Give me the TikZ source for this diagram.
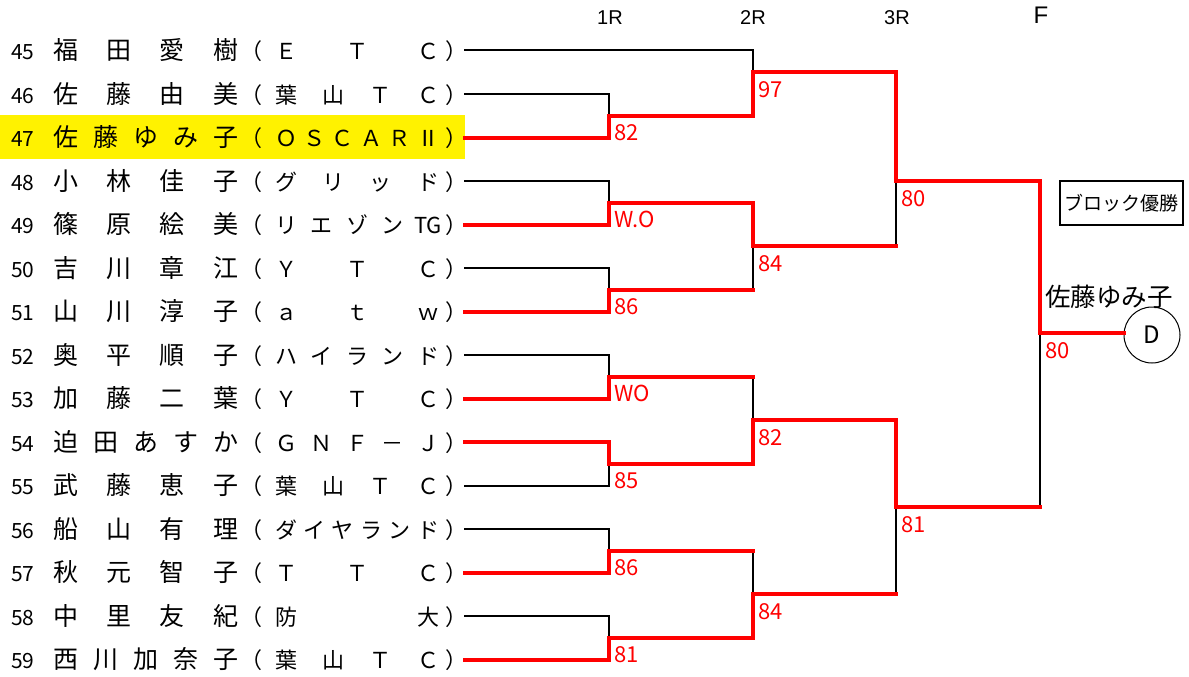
\documentclass[tikz,border=0pt]{standalone}
\usepackage{fontspec}
\setmainfont{Noto Sans CJK JP}
\newfontfamily\latinsans{Liberation Sans}
\usetikzlibrary{shapes.geometric}
\tikzset{
  lose/.style={line width=2pt, black, line join=miter, line cap=rect},
  win/.style={line width=4pt, red, line join=miter, line cap=rect},
  namef/.style={inner sep=0pt, anchor=base, font=\fontsize{25}{25}\selectfont},
  afff/.style={inner sep=0pt, anchor=base, font=\fontsize{22}{22}\selectfont},
  numf/.style={inner sep=0pt, anchor=base west, font=\fontsize{21}{21}\selectfont},
  score/.style={inner sep=0pt, anchor=base west, text=red, font=\fontsize{22}{22}\selectfont},
  hdr/.style={inner sep=0pt, anchor=base, font=\latinsans\fontsize{20}{20}\selectfont},
}
\newcommand\playerrow[5]{%
  \pgfmathsetmacro\yy{59.5+43.5*(#1-45)}%
  \node[numf] (no#1) at (11,\yy) {#1};
  \foreach \c [count=\i] in {#3} {\node[namef] (nm#1-\i) at ({65.5+160*(\i-1)/(#2-1)},\yy) {\c};}
  \node[afff, anchor=base west] (lp#1) at (240,\yy) {（};
  \foreach \c [count=\i] in {#5} {\node[afff] (af#1-\i) at ({286+142*(\i-1)/(#4-1)},\yy) {\c};}
  \node[afff, anchor=base west] (rp#1) at (445,\yy) {）};
  \coordinate (p#1) at (465,\yy-9);
}
\begin{document}
\begin{tikzpicture}[x=1pt,y=-1pt]
\useasboundingbox (0,0) rectangle (1189,677);
\fill[yellow] (0,115) rectangle (465,159);

% headers
\node[hdr] (h1) at (610,25) {1R};
\node[hdr] (h2) at (753,25) {2R};
\node[hdr] (h3) at (897,25) {3R};
\node[hdr, font=\latinsans\fontsize{24}{24}\selectfont] (hf) at (1041,24) {F};

% players
\playerrow{45}{4}{福,田,愛,樹}{3}{Ｅ,Ｔ,Ｃ}
\playerrow{46}{4}{佐,藤,由,美}{4}{葉,山,Ｔ,Ｃ}
\playerrow{47}{5}{佐,藤,ゆ,み,子}{6}{Ｏ,Ｓ,Ｃ,Ａ,Ｒ,Ⅱ}
\playerrow{48}{4}{小,林,佳,子}{4}{グ,リ,ッ,ド}
\playerrow{49}{4}{篠,原,絵,美}{5}{リ,エ,ゾ,ン,TG}
\playerrow{50}{4}{吉,川,章,江}{3}{Ｙ,Ｔ,Ｃ}
\playerrow{51}{4}{山,川,淳,子}{3}{ａ,ｔ,ｗ}
\playerrow{52}{4}{奥,平,順,子}{5}{ハ,イ,ラ,ン,ド}
\playerrow{53}{4}{加,藤,二,葉}{3}{Ｙ,Ｔ,Ｃ}
\playerrow{54}{5}{迫,田,あ,す,か}{5}{Ｇ,Ｎ,Ｆ,－,Ｊ}
\playerrow{55}{4}{武,藤,恵,子}{4}{葉,山,Ｔ,Ｃ}
\playerrow{56}{4}{船,山,有,理}{6}{ダ,イ,ヤ,ラ,ン,ド}
\playerrow{57}{4}{秋,元,智,子}{3}{Ｔ,Ｔ,Ｃ}
\playerrow{58}{4}{中,里,友,紀}{2}{防,大}
\playerrow{59}{5}{西,川,加,奈,子}{4}{葉,山,Ｔ,Ｃ}

% winner box and circle
\node[draw, line width=1.3pt, minimum width=123pt, minimum height=44pt, inner sep=0pt,
      font=\fontsize{19}{19}\selectfont] (blk) at (1121.5,203) {ブロック優勝};
\node[inner sep=0pt, anchor=base west, font=\fontsize{25.5}{25.5}\selectfont] (champ) at (1045,306.5) {佐藤ゆみ子};
\node[draw, circle, line width=1pt, minimum size=56pt, inner sep=0pt,
      font=\fontsize{24}{24}\selectfont] (D) at (1152,335) {D};

% losing (black) lines
\draw[lose] (p45) -- (753,50.5) -- (753,72.25);
\draw[lose] (p46) -- (609,94) -- (609,115.75);
\draw[lose] (p48) -- (609,181) -- (609,202.75);
\draw[lose] (p50) -- (609,268) -- (609,289.75);
\draw[lose] (p52) -- (609,355) -- (609,376.75);
\draw[lose] (p55) -- (609,485.5) -- (609,463.75);
\draw[lose] (p56) -- (609,529) -- (609,550.75);
\draw[lose] (p58) -- (609,616) -- (609,637.75);
\draw[lose] (753,289.75) -- (753,246.25);
\draw[lose] (753,376.75) -- (753,420.25);
\draw[lose] (753,550.75) -- (753,594.25);
\draw[lose] (896,246.25) -- (896,181);
\draw[lose] (896,594.25) -- (896,507.25);
\draw[lose] (1040,507.25) -- (1040,333.25);

% winning (red) lines
\draw[win] (p47) -- (609,137.5) -- (609,115.75) -- (753,115.75) -- (753,72.25) -- (896,72.25)
  -- (896,181) -- (1040,181) -- (1040,333.25) -- (D.west |- 0,333.25);
\draw[win] (p49) -- (609,224.5) -- (609,202.75) -- (753,202.75) -- (753,246.25) -- (896,246.25);
\draw[win] (p51) -- (609,311.5) -- (609,289.75) -- (753,289.75);
\draw[win] (p53) -- (609,398.5) -- (609,376.75) -- (753,376.75);
\draw[win] (p54) -- (609,442) -- (609,463.75) -- (753,463.75) -- (753,420.25) -- (896,420.25)
  -- (896,507.25) -- (1040,507.25);
\draw[win] (p57) -- (609,572.5) -- (609,550.75) -- (753,550.75);
\draw[win] (p59) -- (609,659.5) -- (609,637.75) -- (753,637.75) -- (753,594.25) -- (896,594.25);

% scores
\node[score] (s1) at (614,140.75) {82};
\node[score] (s2) at (614,227.75) {W.O};
\node[score] (s3) at (614,314.75) {86};
\node[score] (s4) at (614,401.75) {WO};
\node[score] (s5) at (614,488.75) {85};
\node[score] (s6) at (614,575.75) {86};
\node[score] (s7) at (614,662.75) {81};
\node[score] (s8) at (758,97.25) {97};
\node[score] (s9) at (758,271.25) {84};
\node[score] (s10) at (758,445.25) {82};
\node[score] (s11) at (758,619.25) {84};
\node[score] (s12) at (901,206) {80};
\node[score] (s13) at (901,532.25) {81};
\node[score] (s14) at (1045,358.25) {80};
\end{tikzpicture}
\end{document}
